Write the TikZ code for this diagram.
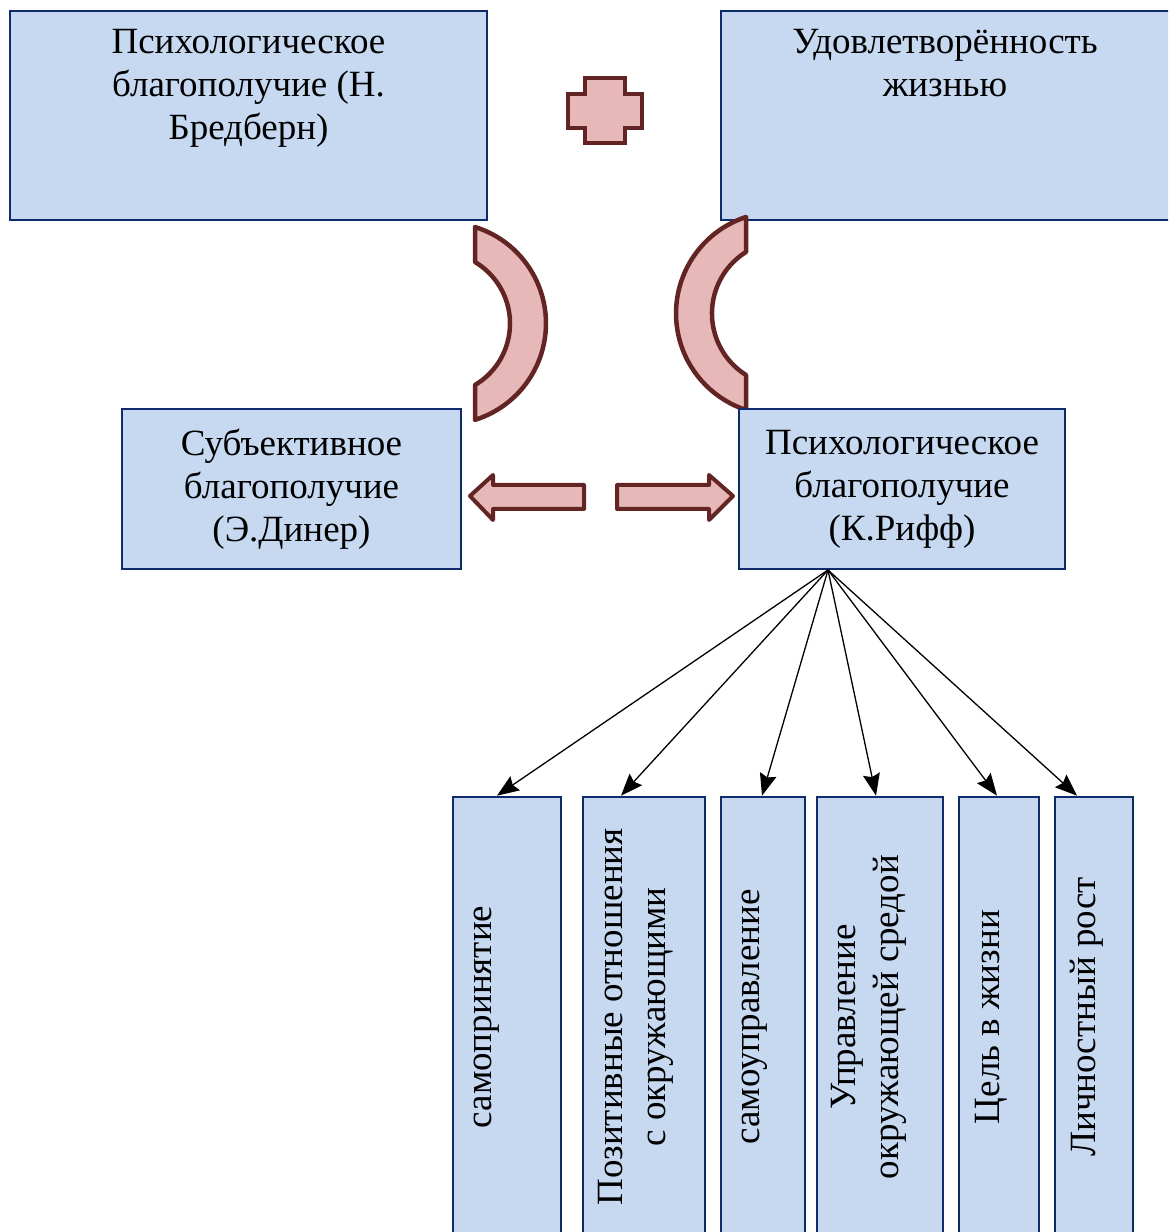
\documentclass[tikz,border=0pt]{standalone}
\usepackage{fontspec}
\setmainfont{Liberation Serif}
\newfontfamily\timesfont{Liberation Serif}
\usetikzlibrary{arrows.meta}
\definecolor{boxfill}{HTML}{C6D9F1}
\definecolor{boxline}{HTML}{0F2B6B}
\definecolor{pinkfill}{HTML}{E6B9B8}
\definecolor{pinkline}{HTML}{632523}

\begin{document}
\begin{tikzpicture}[x=1pt,y=1pt,
  box/.style={draw=boxline, line width=2.6pt, fill=boxfill, inner sep=0pt},
  txt/.style={align=center, font=\timesfont\fontsize{37}{43}\selectfont, inner sep=0pt},
  shp/.style={draw=pinkline, fill=pinkfill, line width=4.5pt, line join=round},
  fan/.style={-{Stealth[length=22pt,width=17pt,inset=3pt]}, line width=1.3pt}]
\clip (0,0) rectangle (1168,1232);
% upper boxes
\node[box, minimum width=477pt, minimum height=209pt] (brad) at (248.5,1116.5) {};
\node[txt, anchor=north] (bradtxt) at (248.5,1203) {Психологическое\\благополучие (Н.\\Бредберн)};
\node[box, minimum width=449pt, minimum height=209pt] (satis) at (945.5,1116.5) {};
\node[txt, anchor=north] (satistxt) at (945,1203) {Удовлетворённость\\жизнью};
% plus
\draw[shp, line width=3.5pt, line join=miter] (585,1154)--(625,1154)--(625,1138)--(642,1138)--(642,1104)--(625,1104)
  --(625,1089)--(585,1089)--(585,1104)--(568,1104)--(568,1138)--(585,1138)--cycle;
% arcs
\draw[shp] (475,1005) arc[start angle=72.7, end angle=-72.7, radius=101] -- (475,847)
  arc[start angle=-59.3, end angle=59.3, radius=71.5] -- cycle;
\draw[shp] (746,1015) arc[start angle=108.1, end angle=251.9, radius=101.5] -- (746,857)
  arc[start angle=237.9, end angle=122.1, radius=72.6] -- cycle;
% middle boxes
\node[box, minimum width=339pt, minimum height=160pt, txt] (diener) at (291.5,743)
  {Субъективное\\благополучие\\(Э.Динер)};
\node[box, minimum width=326pt, minimum height=160pt, txt] (ryff) at (902,743)
  {Психологическое\\благополучие\\(К.Рифф)};
% block arrows
\draw[shp, line width=4pt] (470,736)--(493,757)--(493,747)--(584,747)--(584,723)--(493,723)--(493,712)--cycle;
\draw[shp, line width=4pt] (733,736)--(709,757)--(709,747)--(617,747)--(617,723)--(709,723)--(709,712)--cycle;
% lower boxes
\node[box, minimum width=108pt, minimum height=480pt] (s1) at (507,195) {};
\node[box, minimum width=122pt, minimum height=480pt] (s2) at (644,195) {};
\node[box, minimum width=84pt, minimum height=480pt] (s3) at (763,195) {};
\node[box, minimum width=126pt, minimum height=480pt] (s4) at (880,195) {};
\node[box, minimum width=80pt, minimum height=480pt] (s5) at (999,195) {};
\node[box, minimum width=78pt, minimum height=480pt] (s6) at (1094,195) {};
\node[txt, rotate=90] (t1) at (487,215) {самопринятие};
\node[txt, rotate=90] (t2) at (636,215) {Позитивные отношения\\с окружающими};
\node[txt, rotate=90] (t3) at (755,215) {самоуправление};
\node[txt, rotate=90] (t4) at (869,215) {Управление\\окружающей средой};
\node[txt, rotate=90] (t5) at (991,215) {Цель в жизни};
\node[txt, rotate=90] (t6) at (1087,215) {Личностный рост};
% fan of arrows
\coordinate (hub) at (828,662);
\draw[fan] (hub) -- ([xshift=-10pt]s1.north);
\draw[fan] (hub) -- ([xshift=-23pt]s2.north);
\draw[fan] (hub) -- ([xshift=-1pt]s3.north);
\draw[fan] (hub) -- ([xshift=-4pt]s4.north);
\draw[fan] (hub) -- ([xshift=-2pt]s5.north);
\draw[fan] (hub) -- ([xshift=-17pt]s6.north);
\end{tikzpicture}
\end{document}
